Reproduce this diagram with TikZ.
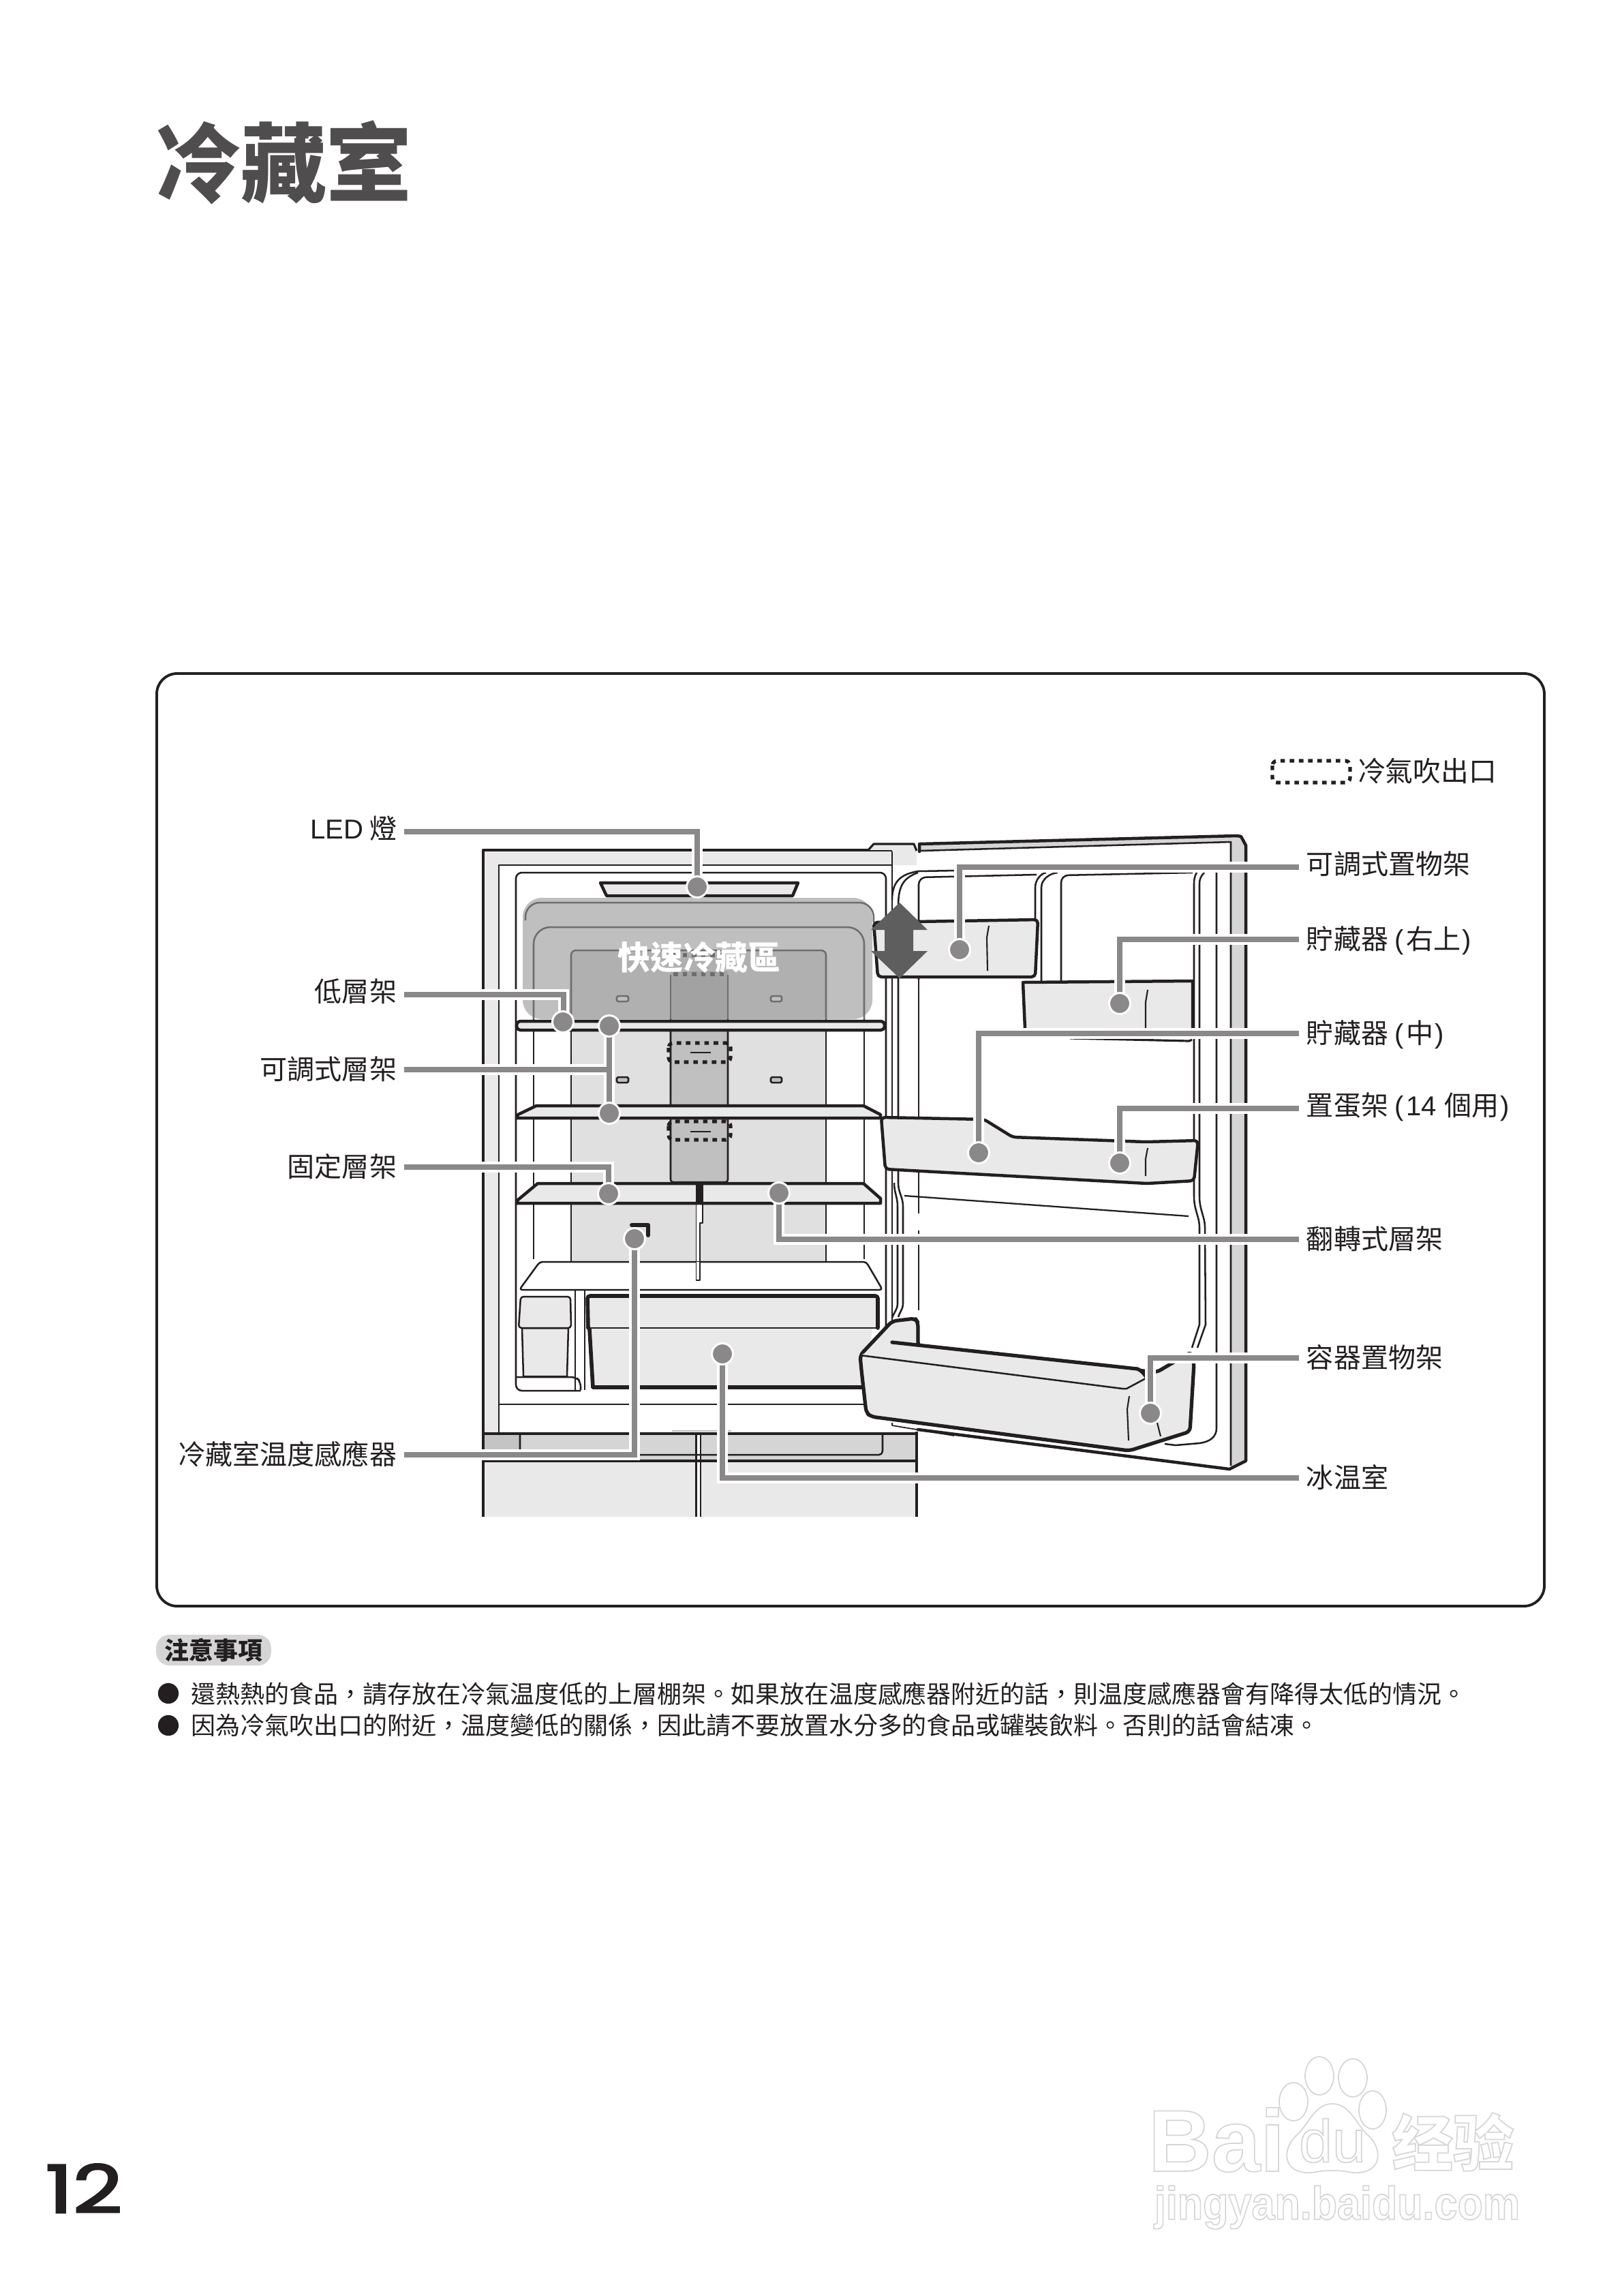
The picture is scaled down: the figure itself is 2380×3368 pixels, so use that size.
\documentclass[tikz,border=0pt]{standalone}
\usepackage{fontspec}
\setmainfont{Noto Sans CJK TC}
\newfontfamily\latf{Liberation Sans}
\newfontfamily\scf{Noto Sans CJK SC}
\newfontfamily\numf{Poppins}
\pgfdeclarelayer{toplayer}
\pgfsetlayers{main,toplayer}
\definecolor{ink}{HTML}{231F20}
\definecolor{lg}{HTML}{E9E9E9}
\definecolor{pg}{HTML}{E0E0E0}
\definecolor{dg}{HTML}{C0C0C0}
\definecolor{bandc}{HTML}{D5D5D5}
\definecolor{leadc}{HTML}{8A8889}
\definecolor{hlc}{HTML}{BFBFBF}
\definecolor{hlp}{HTML}{B0B0B0}
\definecolor{hld}{HTML}{A2A2A2}
\definecolor{hll}{HTML}{6E6E6E}
\definecolor{arrc}{HTML}{5E5E5E}
\definecolor{titlec}{HTML}{4F4D4E}
\newcommand\outl[1]{\special{pdf:code q 1 Tr 0.5 w 0.84 G}#1\special{pdf:code Q}}
\newcommand\heavy[1]{\special{pdf:code q 2 Tr 0.75 w 0.137 0.122 0.125 RG}#1\special{pdf:code Q}}
\tikzset{
 x=0.01cm,y=-0.01cm,
 thk/.style={draw=ink,line width=1.28pt,line join=round,line cap=round},
 med/.style={draw=ink,line width=0.72pt,line join=round},
 thn/.style={draw=ink,line width=0.5pt,line join=round},
 hlline/.style={draw=hll,line width=0.72pt,line join=round},
 outlet/.style={draw=ink,line width=1.5pt,dash pattern=on 1.9pt off 1.95pt,rounded corners=2pt},
 clip box/.style={draw=ink,line width=0.72pt,fill=dg,rounded corners=0.5pt},
 lead/.style={draw=leadc,line width=2.13pt,preaction={draw=white,line width=4.3pt}},
 dot/.style={circle,fill=leadc,draw=white,line width=0.85pt,minimum size=8.8pt,inner sep=0pt},
 lbl/.style={text=ink,font=\fontsize{11.4pt}{13pt}\selectfont,inner ysep=0pt,outer sep=0pt,text height=9pt,text depth=0.6pt},
 lbll/.style={lbl,anchor=east,inner xsep=3.1pt},
 lblr/.style={lbl,anchor=west,inner xsep=3.1pt},
 raised/.style={text depth=3pt},
 note/.style={text=ink,font=\fontsize{10.23pt}{12pt}\selectfont,anchor=west,inner sep=0pt},
 bullet/.style={circle,fill=ink,minimum size=8.6pt,inner sep=0pt},
 paw/.style={draw=black!16,line width=0.5pt,fill=white},
 wm/.style={inner sep=0pt,anchor=center},
}
\begin{document}
\begin{tikzpicture}
\useasboundingbox (0,0) rectangle (2380,3368);
\fill[white] (0,0) rectangle (2380,3368);

% nodes on the top layer
\begin{pgfonlayer}{toplayer}
\node[text=titlec,font=\fontsize{35.8pt}{40pt}\selectfont\bfseries,inner sep=0pt] (title) at (416,238) {冷藏室};
\node[fill=bandc,rounded corners=5.5pt,minimum width=48pt,minimum height=12.8pt,inner sep=0pt,text=ink,font=\fontsize{10.2pt}{12pt}\selectfont\bfseries] (notes) at (313.5,2420.5) {注意事項};
\node[bullet] (b1) at (247,2484) {};
\node[bullet] (b2) at (247,2531) {};
\node[note] (n1) at (280,2485) {還熱熱的食品，請存放在冷氣温度低的上層棚架。如果放在温度感應器附近的話，則温度感應器會有降得太低的情況。};
\node[note] (n2) at (280,2531) {因為冷氣吹出口的附近，温度變低的關係，因此請不要放置水分多的食品或罐裝飲料。否則的話會結凍。};
\node[text=ink,font=\fontsize{27.6pt}{30pt}\numf,inner sep=0pt,xscale=1.3] (page) at (123,3210) {\heavy{12}};

\node[text=white,font=\fontsize{13.6pt}{15pt}\selectfont\bfseries,inner sep=0pt] (fast) at (1026,1405) {快速冷藏區};
\node[lbl,anchor=west,inner sep=0pt,font=\fontsize{11.6pt}{13pt}\selectfont] (legend) at (1992,1132) {冷氣吹出口};

\node[lbll,raised] (lLED) at (593,1220) {{\latf LED} 燈};
\node[lbll,raised] (lLow) at (593,1459) {低層架};
\node[lbll] (lAdj) at (593,1569) {可調式層架};
\node[lbll] (lFix) at (593,1712) {固定層架};
\node[lbll] (lSen) at (593,2134) {冷藏室温度感應器};
\node[lblr,raised] (rAdj) at (1906,1272) {可調式置物架};
\node[lblr] (rUp) at (1906,1378) {貯藏器 {\latf(\hskip.1em}右上{\latf\hskip.05em)}};
\node[lblr] (rMid) at (1906,1516) {貯藏器 {\latf(\hskip.1em}中{\latf\hskip.05em)}};
\node[lblr,raised] (rEgg) at (1906,1626) {置蛋架 {\latf(\hskip.1em14 }個用{\latf\hskip.05em)}};
\node[lblr] (rFlip) at (1906,1818) {翻轉式層架};
\node[lblr] (rCon) at (1906,1992) {容器置物架};
\node[lblr] (rIce) at (1906,2168) {冰温室};

\node[dot] (dLED) at (1023,1301) {};
\node[dot] (dLow) at (826,1499) {};
\node[dot] (dAdjA) at (894,1505) {};
\node[dot] (dAdjB) at (894,1633) {};
\node[dot] (dFix) at (893,1751) {};
\node[dot] (dFlip) at (1143,1750) {};
\node[dot] (dSen) at (931,1817) {};
\node[dot] (dIce) at (1060,1986) {};
\node[dot] (dAdjR) at (1408,1393) {};
\node[dot] (dUp) at (1643,1472) {};
\node[dot] (dMid) at (1436,1691) {};
\node[dot] (dEgg) at (1643,1706) {};
\node[dot] (dCon) at (1688,2073) {};

% watermark
\draw[paw] (1898,3083) ellipse (21 and 28);
\draw[paw] (1936,3045) ellipse (21 and 28);
\draw[paw] (1985,3048) ellipse (21 and 28);
\draw[paw] (2014,3095) ellipse (20 and 28);
\draw[paw] (1955,3086) .. controls (1980,3086) and (1990,3115) .. (2005,3130)
   .. controls (2030,3150) and (2030,3190) .. (1985,3187)
   .. controls (1965,3183) and (1945,3183) .. (1925,3187)
   .. controls (1880,3190) and (1880,3150) .. (1905,3130)
   .. controls (1920,3115) and (1930,3086) .. (1955,3086) -- cycle;
\node[wm,font=\fontsize{36.6pt}{40pt}\latf\bfseries] (wmA) at (1785,3139) {\outl{Bai}};
\node[wm,font=\fontsize{25pt}{28pt}\latf] (wmB) at (1955,3140) {\outl{du}};
\node[wm,font=\fontsize{25.5pt}{28pt}\scf\bfseries] (wmC) at (2132,3142) {\outl{经验}};
\node[wm,font=\fontsize{19.3pt}{22pt}\latf\bfseries,xscale=0.9] (wmD) at (1962,3238) {\outl{jingyan.baidu.com}};
\end{pgfonlayer}

% frame box
\draw[draw=ink,line width=1.1pt,rounded corners=8.5pt] (230,988) rectangle (2266,2356);

% cabinet frame
\fill[lg] (709,1247) -- (1274,1247) -- (1282,1238) -- (1341,1238) -- (1345,1248) -- (1345,1269) -- (1309,1269) -- (1309,2103) -- (709,2103) -- cycle;
\fill[white] (732,1269) rectangle (1309,2103);
\draw[thk] (709,2103) -- (709,1247) -- (1274,1247);
\draw[thn,line width=0.9pt] (1274,1247) -- (1282,1238) -- (1341,1238) -- (1345,1248);
\draw[thn] (1274,1248) -- (1309,1248);
\draw[med] (732,2103) -- (732,1269) -- (1309,1269);
\draw[med] (1309,1249) -- (1309,2000);
\draw[med,rounded corners=2.5pt] (852,2040) -- (757,2040) -- (757,1280) -- (1300,1280) -- (1300,1960);
\draw[med] (732,2060) -- (1275,2060);

% rear wall and panels
\fill[pg] (838,1394) rectangle (1212,1851);
\fill[dg] (984,1394) rectangle (1068,1734);
\draw[med] (783,1847) -- (783,1400);
\draw[med] (1268,1847) -- (1268,1400);
\draw[med] (838,1400) -- (838,1851);
\draw[med] (1212,1400) -- (1212,1851);
\draw[med,rounded corners=1pt] (984,1400) -- (984,1734) -- (1068,1734) -- (1068,1400);
\draw[clip box] (905,1580) rectangle (922,1588);
\draw[clip box] (1131,1580) rectangle (1147,1588);
\draw[outlet] (981,1530) rectangle (1072,1558);
\draw[med] (1013,1544) -- (1043,1544);
\draw[outlet] (981,1645) rectangle (1072,1672);
\draw[med] (1013,1660) -- (1043,1660);
\draw[outlet] (1867,1116) rectangle (1981,1148);

% highlight
\fill[hlc,rounded corners=8pt] (767,1317) rectangle (1280,1495);
\fill[hlp,rounded corners=2pt] (838,1495) -- (838,1394) -- (1212,1394) -- (1212,1495) -- cycle;
\fill[hld] (984,1425) rectangle (1068,1495);
\draw[hlline,rounded corners=6pt] (771,1350) -- (771,1324) -- (1282,1324) -- (1282,1353);
\draw[hlline,rounded corners=7pt] (783,1495) -- (783,1360) -- (1268,1360) -- (1268,1495);
\draw[hlline,rounded corners=2pt] (838,1495) -- (838,1394) -- (1212,1394) -- (1212,1495);
\draw[hlline] (984,1495) -- (984,1430);
\draw[hlline] (1068,1495) -- (1068,1430);
\draw[hlline,line width=1.5pt,dash pattern=on 1.9pt off 1.95pt] (988,1429) -- (1064,1429);
\draw[hlline,line width=1.5pt,dash pattern=on 1.9pt off 1.95pt] (988,1401) -- (1064,1401);
\draw[hlline,fill=hlc,rounded corners=0.5pt] (905,1461) rectangle (922,1469);
\draw[hlline,fill=hlc,rounded corners=0.5pt] (1131,1461) rectangle (1147,1469);

% LED strip
\draw[thk,fill=lg] (881,1295) -- (1171,1295) -- (1163,1314) -- (890,1314) -- cycle;

% shelves
\draw[thk,fill=lg,rounded corners=1.5pt] (758,1498) rectangle (1298,1511);
\draw[thk,fill=lg] (758,1640) -- (760,1635) -- (787,1622) -- (1267,1622) -- (1292,1635) -- (1292,1640) -- cycle;
\draw[thn,fill=white] (1021.5,1765) -- (1021.5,1878) -- (1027,1878) -- (1027,1794) -- (1031,1794) -- (1031,1765) -- cycle;
\draw[thk,fill=lg] (758,1765) -- (760,1760) -- (789,1736) -- (1267,1736) -- (1292,1758) -- (1292,1765) -- cycle;
\fill[ink] (1021,1736) rectangle (1032,1765);
% lower glass shelf
\draw[med,fill=white,rounded corners=1.2pt] (762,1892) -- (792,1851) -- (1271,1851) -- (1295,1892) -- cycle;
\draw[thn,fill=white] (1021.5,1851) -- (1021.5,1878) -- (1027,1878) -- (1027,1851);
\draw[med] (844,1893) -- (844,2039);
\draw[med] (858,1893) -- (858,2039);

% small container on the left
\draw[med,fill=lg] (766,1948) -- (768,2019) -- (832,2019) -- (834,1948) -- cycle;
\draw[med,fill=lg,rounded corners=1.2pt] (761,1948) -- (764,1902) -- (837,1902) -- (838,1948) -- cycle;
\draw[med,rounded corners=2pt] (757,2020) -- (845,2020) -- (852,2027) -- (852,2039);

% drawer
\fill[lg] (862,1901) rectangle (1288,1948);
\fill[lg] (865,1948) -- (870,2035) -- (1270,2035) -- (1280,1948) -- cycle;
\draw[thk,line width=1.6pt] (865,1950) -- (870,2035) -- (1272,2035);
\draw[thk,line width=1.6pt,rounded corners=1pt] (863,1948) -- (862,1901) -- (1288,1901) -- (1288,1948);
\draw[med] (863,1948) -- (1288,1948);

% lower compartment
\fill[bandc] (709,2103) rectangle (1345,2143);
\fill[lg] (709,2143) rectangle (1345,2225);
\fill[bandc!92!black] (709,2103) rectangle (763,2143);
\fill[white] (1021.5,2103) rectangle (1028,2225);
\draw[med,rounded corners=1.5pt] (763,2103) -- (763,2134) -- (1295,2134) -- (1295,2103);
\draw[med] (763,2103) -- (763,2135);
\draw[thk,line width=1pt] (709,2103) -- (1345,2103);
\draw[thk,line width=1pt] (709,2143) -- (1345,2143);
\draw[thk,line cap=butt] (709,2100) -- (709,2225);
\draw[thk,line cap=butt] (1345,2100) -- (1345,2225);
\draw[med] (1021.5,2103) -- (1021.5,2225);
\draw[med] (1028,2103) -- (1028,2225);
\draw[draw=black!25,line width=0.6pt] (986,2099) -- (1073,2099);

% door
\fill[bandc] (1351,1238) -- (1821,1226) -- (1806,1235) -- (1351,1248) -- cycle;
\fill[bandc] (1806,1235) -- (1821,1226) -- (1828,1240) -- (1828,2143) -- (1806,2154) -- cycle;
\draw[thk] (1349,1249) -- (1349,1238) -- (1815,1226) -- (1821,1227) -- (1828,1240) -- (1828,2143) -- (1804,2155) -- (1347,2097);
\draw[med] (1351,1248) -- (1806,1235) -- (1806,2150);
\draw[thn] (1309,2087) -- (1309,2091) -- (1400,2106);
% door gaskets and panels
\draw[med] (1309,1320) .. controls (1309,1290) and (1325,1282) .. (1347,1278) -- (1402,1277);
\draw[med] (1318,1330) .. controls (1318,1300) and (1325,1288) .. (1347,1280);
\draw[med] (1318,1330) -- (1318,1735) .. controls (1318,1750) and (1325,1755) .. (1325,1770) -- (1325,1913) .. controls (1325,1920) and (1320,1925) .. (1318,1932);
\draw[med] (1312,1735) .. controls (1312,1750) and (1317,1755) .. (1317,1770) -- (1317,1913) .. controls (1317,1920) and (1312,1925) .. (1309,1933);
\draw[med,rounded corners=3pt] (1348,1437) -- (1348,1287) -- (1521,1283);
\draw[med] (1348,1437) -- (1348,1780);
\draw[med] (1348,1805) -- (1348,1922);
\draw[med] (1519,1350) -- (1519,1302) .. controls (1519,1290) and (1528,1281) .. (1535,1280);
\draw[med] (1528,1440) -- (1528,1302) .. controls (1528,1290) and (1540,1281) .. (1552,1280);
\draw[med,rounded corners=3pt] (1557,1440) -- (1557,1284) -- (1750,1280);
\draw[med] (1756,1280) .. controls (1753,1285) and (1752,1290) .. (1752,1296) -- (1752,1755) .. controls (1752,1775) and (1760,1785) .. (1760,1800) -- (1760,1943) -- (1749,1977);
\draw[med] (1767,1280) .. controls (1762,1285) and (1760,1290) .. (1760,1296) -- (1760,1755) .. controls (1760,1775) and (1768,1785) .. (1768,1800) -- (1769,1943) -- (1757,1977);
\draw[med] (1785,1280) -- (1785,2095) .. controls (1785,2108) and (1775,2115) .. (1760,2117) -- (1725,2120) -- (1709,2118);
\draw[thn,line width=0.65pt] (1327,1754) -- (1744,1784);

% door bins
\draw[thk,fill=lg,rounded corners=1.5pt] (1282,1353) -- (1523,1349) -- (1519,1433) -- (1288,1433) -- cycle;
\draw[thn,line width=0.6pt] (1451,1358) -- (1448,1375) -- (1449,1424);
\fill[lg] (1503,1443) -- (1749,1441) -- (1749,1509) -- (1503,1509) -- cycle;
\draw[thk,line cap=butt] (1504,1509) -- (1501,1441) -- (1750,1439) -- (1750,1509);
\draw[thk,line width=0.9pt,line cap=butt] (1570,1523) -- (1745,1527) -- (1749,1525);
\draw[thn,line width=0.6pt] (1684,1452) -- (1681,1470) -- (1681,1509);
\draw[thk,fill=lg,rounded corners=1.5pt] (1293,1639) -- (1444,1642) -- (1486,1668) -- (1681,1675) -- (1758,1673) -- (1752,1732) -- (1683,1736) -- (1299,1715) -- cycle;
\draw[thn,line width=0.6pt] (1684,1684) -- (1681,1700) -- (1681,1725);
% big door rack
\draw[thk,fill=lg,rounded corners=1.8pt,line width=1.5pt] (1262,1988) -- (1309,1938) -- (1343,1934) -- (1347,1940) -- (1347,1975) -- (1697,2013) -- (1748,1983) -- (1752,2000) -- (1746,2100) -- (1657,2128) -- (1278,2078) -- (1271,2072) -- (1264,2010) -- cycle;
\fill[lg] (1309,1969) -- (1669,2008) -- (1681,2022) -- (1653,2037) -- (1647,2037) -- (1262,1988) -- cycle;
\draw[thk,line width=1.5pt] (1309,1969) -- (1669,2008) .. controls (1675,2010) and (1680,2017) .. (1682,2020);
\draw[med] (1262,1988) -- (1647,2037) -- (1653,2037) -- (1681,2022);
\draw[thn,line width=0.6pt] (1657,2048) -- (1654,2067) -- (1656,2113);
\draw[thn,line width=0.6pt] (1698,2087) -- (1703,2107);

% sensor bracket
\draw[ink,line width=1.7pt,line join=round,line cap=round] (927,1797) -- (951,1797) -- (951,1812);

% double arrow
\fill[arrc] (1320,1324) -- (1361,1364) -- (1340,1364) -- (1340,1395) -- (1361,1395) -- (1320,1435) -- (1278,1395) -- (1298,1395) -- (1298,1364) -- (1278,1364) -- cycle;

% leaders
\draw[lead] (dLED.center) |- (lLED.east);
\draw[lead] (dLow.center) ++(1,0) |- (lLow.east);
\draw[lead] (dAdjB.center) -- (dAdjA.center) (lAdj.east) -- (dAdjA.center |- lAdj.east);
\draw[lead] (dFix.center) |- (lFix.east);
\draw[lead] (dSen.center) |- (lSen.east);
\draw[lead] (dFlip.center) |- (rFlip.west);
\draw[lead] (dIce.center) |- (rIce.west);
\draw[lead] (dAdjR.center) |- (rAdj.west);
\draw[lead] (dUp.center) |- (rUp.west);
\draw[lead] (dMid.center) |- (rMid.west);
\draw[lead] (dEgg.center) |- (rEgg.west);
\draw[lead] (dCon.center) |- (rCon.west);
\end{tikzpicture}
\end{document}
